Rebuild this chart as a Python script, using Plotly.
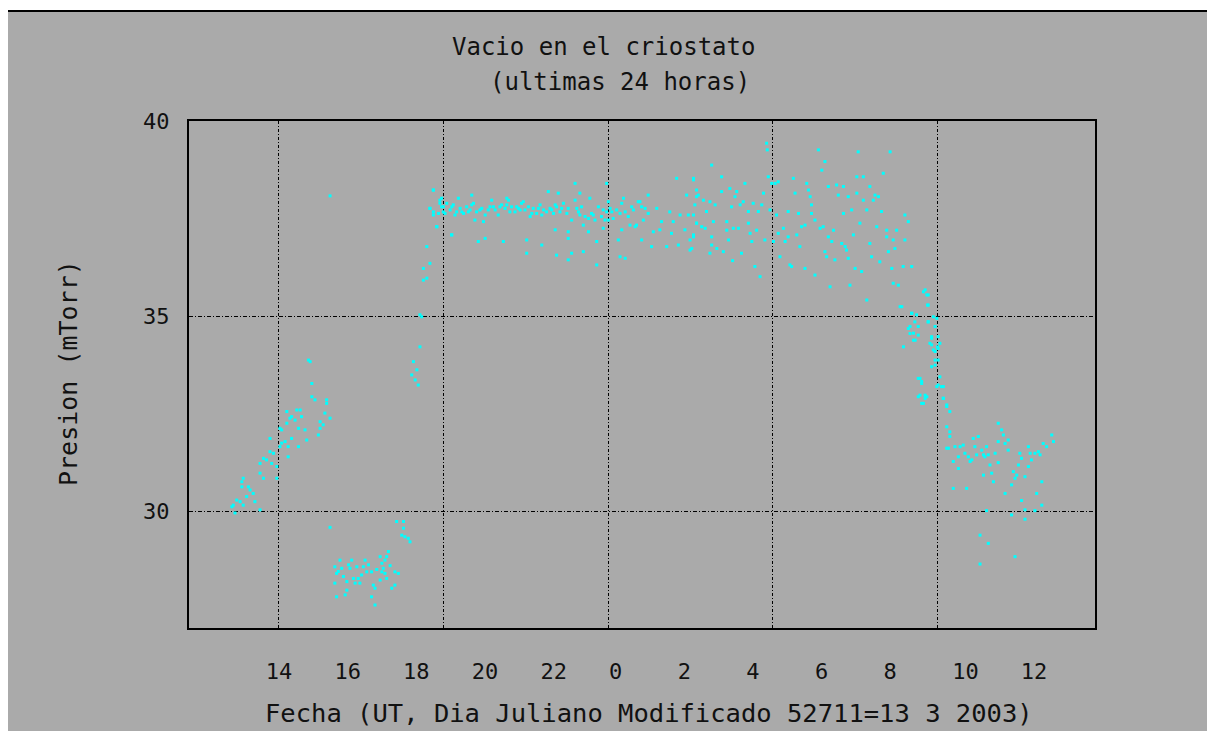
import plotly.graph_objects as go

# ---- Data: time (hours since MJD 52711.0, i.e. 13 Mar 2003 00:00 UT) and pressure (mTorr)
hours_rise = [13.08, 13.13, 13.04, 13.18, 13.28, 13.37, 13.33, 13.37, 13.33, 13.52, 13.57, 13.66, 13.47, 13.71, 13.86,
              13.86, 13.96, 13.86, 13.96, 14.05, 14.15, 14.25, 14.20, 14.35, 14.35, 14.15,
              14.44, 14.49, 14.59, 14.68, 14.68, 14.98, 14.78, 14.49, 14.44, 14.64, 14.73, 14.78, 14.64, 14.93, 15.03,
              15.07, 14.98, 15.17, 15.22, 14.88, 15.37, 15.46, 15.37, 15.27, 15.32, 15.80, 15.80, 15.75, 15.90, 15.61,
              15.70, 15.61, 15.56, 15.90]
mtorr_rise = [30.15, 29.95, 30.11, 30.28, 30.24, 30.15, 30.75, 30.84, 30.62, 30.62, 30.54, 30.45, 30.37, 30.24, 30.03,
              30.97, 30.84, 31.22, 31.35, 31.31, 31.52, 31.48, 31.22, 31.14, 30.84, 31.86,
              31.65, 31.74, 31.78, 31.65, 31.39, 31.65, 31.86, 32.08, 32.12, 32.25, 32.38, 32.42, 32.55, 32.59, 32.59,
              32.42, 32.12, 32.08, 31.82, 32.33, 32.93, 32.85, 33.27, 33.87, 33.83, 32.85, 32.76, 32.51, 32.38, 32.29,
              32.21, 32.12, 31.95, 38.08]

hours_low = [15.90, 16.19, 16.04, 16.09, 16.04, 16.09, 16.24, 16.29, 16.39, 16.39, 16.34, 16.48, 16.53, 16.58, 16.63,
             16.72, 16.77, 16.68, 16.87, 16.92, 16.97, 17.02, 17.11, 17.16, 17.21, 17.11, 17.21, 17.36, 17.41, 17.45,
             17.50, 17.55, 17.60, 17.41, 17.50, 17.36, 17.55, 17.70, 17.79, 17.79, 17.89, 17.84, 18.04, 18.04, 17.99,
             18.08, 18.18, 18.23, 16.14, 16.44, 16.82, 17.26, 17.65]
mtorr_low = [29.58, 28.74, 28.57, 28.40, 28.15, 27.80, 28.53, 28.32, 28.19, 27.97, 27.85, 28.53, 28.74, 28.27, 28.15,
             28.27, 28.15, 28.57, 28.57, 28.74, 28.44, 28.62, 28.44, 28.10, 28.02, 27.80, 27.59, 28.83, 28.66, 28.53,
             28.74, 28.83, 28.96, 28.44, 28.40, 28.23, 28.27, 28.02, 28.10, 28.44, 28.40, 29.73, 29.73, 29.56, 29.38,
             29.34, 29.30, 29.21, 28.45, 28.62, 28.36, 28.50, 28.60]

hours_jump = [18.52, 18.33, 18.28, 18.43, 18.47, 18.38, 18.52, 18.57, 18.72, 18.62, 18.81, 18.62, 18.72, 18.91, 18.81,
              18.91, 19.06, 19.10, 19.15, 19.01, 18.81, 18.91, 19.10, 19.20, 19.15, 18.91, 19.01, 19.44]
mtorr_jump = [34.21, 33.83, 33.49, 33.62, 33.23, 33.36, 35.03, 34.98, 36.78, 36.22, 36.35, 35.92, 35.97, 38.23, 37.76,
              37.67, 37.63, 37.97, 37.80, 37.29, 37.76, 37.59, 37.89, 37.67, 38.02, 38.23, 37.29, 37.08]

hours_plateau = [19.20, 19.30, 19.40, 19.49, 19.59, 19.69, 19.79, 19.88, 19.98, 20.08, 20.17, 20.32, 20.42, 20.56, 20.61,
                 20.71, 20.80, 20.90, 21.00, 21.10, 21.19, 21.29, 21.39, 21.48, 21.58, 21.73, 21.82, 21.92, 22.02, 22.12,
                 22.21, 22.31, 22.41, 22.50, 22.60, 22.70, 22.84, 22.94, 23.04, 23.14, 23.23, 23.33, 23.43, 23.52, 23.62,
                 23.72, 23.81, 23.91, 23.96, 24.06, 24.15, 24.25, 24.40, 24.50, 24.59, 24.74, 24.88, 24.98, 25.08, 25.17,
                 19.25, 19.45, 19.54, 19.74, 19.93, 20.03, 20.27, 20.51, 20.66, 20.85, 21.05, 21.14, 21.34, 21.44, 21.68,
                 21.78, 21.97, 22.07, 22.36, 22.46, 22.65, 22.80, 23.09, 23.18, 23.57, 23.86, 24.01, 24.11, 24.35, 24.69,
                 19.64, 20.03, 21.05, 21.53, 22.26, 22.55, 23.04, 23.18, 23.47, 23.96, 24.01, 24.45, 24.93, 25.17, 26.00,
                 26.49, 26.29, 26.58,
                 19.45, 20.22, 20.42, 20.12, 20.37, 20.95, 21.63, 21.63, 22.07, 22.46, 22.50, 22.84, 22.84, 22.84, 22.94,
                 23.28, 23.28, 23.43, 23.67, 23.67, 23.86, 24.30, 24.35, 24.50, 24.40, 24.64, 24.79, 24.98, 25.27, 25.32,
                 25.51, 25.71, 25.85, 26.05, 26.24, 26.39, 26.39, 26.49, 26.58, 25.56, 25.90, 26.10, 26.34, 25.42, 25.80,
                 25.03, 24.83]
mtorr_plateau = [37.80, 37.89, 37.72, 37.85, 37.67, 37.76, 37.63, 37.80, 37.72, 37.89, 37.67, 37.76, 37.59, 37.80, 37.97,
                 37.72, 37.59, 37.85, 37.76, 37.97, 37.80, 37.67, 37.76, 37.89, 37.72, 37.55, 37.76, 37.63, 37.85, 37.72,
                 37.67, 37.76, 37.63, 37.80, 37.67, 37.89, 37.76, 37.46, 37.97, 37.67, 37.80, 37.55, 37.50, 37.63, 37.46,
                 37.80, 37.55, 37.46, 37.67, 37.76, 37.50, 37.72, 37.89, 37.67, 37.55, 37.72, 37.93, 37.80, 37.76, 37.63,
                 37.63, 37.80, 37.59, 37.67, 37.67, 37.85, 37.72, 37.72, 37.80, 37.80, 37.85, 37.67, 37.80, 37.72, 37.80,
                 37.63, 37.76, 37.59, 37.72, 37.85, 37.76, 37.63, 37.76, 37.59, 37.59, 37.72, 37.46, 37.67, 37.63, 37.80,
                 38.02, 38.10, 38.02, 37.93, 38.19, 38.15, 38.40, 38.15, 38.02, 38.40, 37.93, 38.02, 37.93, 38.10, 38.53,
                 38.49, 38.10, 38.06,
                 37.08, 36.91, 36.99, 37.46, 37.42, 36.91, 36.95, 36.61, 36.82, 37.21, 36.56, 37.16, 36.99, 36.44, 36.61,
                 37.33, 36.65, 37.16, 36.91, 36.31, 37.25, 36.95, 36.52, 36.48, 37.21, 37.33, 37.29, 36.95, 36.78, 37.16,
                 37.21, 36.78, 37.12, 36.82, 37.21, 36.95, 36.69, 37.08, 37.38, 37.42, 37.42, 37.59, 37.59, 37.76, 37.67,
                 37.46, 37.33]

hours_scatter = [26.49, 26.58, 26.63, 26.53, 26.49, 26.58, 26.73, 26.83, 26.49, 26.44, 26.78, 26.87, 26.97, 27.02, 27.12,
                 27.07, 27.02, 27.02, 26.97, 27.17, 27.31, 27.31, 27.36, 27.46, 27.46, 27.51, 27.55, 27.60, 27.65, 27.63,
                 27.70, 27.75, 27.85, 27.80, 27.89, 27.99, 27.94, 28.09, 28.09, 28.14, 28.19, 28.23, 28.28, 28.33, 28.38,
                 28.43, 28.48, 28.53, 28.57, 28.62, 28.64, 28.67, 28.72, 28.77, 28.87, 28.96, 28.82, 28.91, 28.96, 29.01,
                 29.11, 29.16, 29.25, 29.25, 29.30, 29.35, 29.40, 29.45, 29.50, 29.55, 29.59, 29.64, 29.74, 29.74, 29.79,
                 29.84, 29.89, 29.93, 29.93, 30.03, 30.03, 30.13, 30.18, 30.23, 30.27, 30.32, 30.32, 30.37, 30.42, 30.42,
                 30.47, 30.52, 30.57, 30.61, 30.66, 30.71, 30.81, 30.86, 30.86, 30.91, 30.95, 31.00, 31.00, 31.05, 31.10,
                 31.15, 31.20, 31.25, 31.25, 31.29, 31.34, 31.39, 31.44, 31.44, 31.54, 31.54, 31.63, 31.63, 31.68, 31.73,
                 31.78, 31.83, 31.88, 31.92, 31.97, 32.02, 32.12, 32.12, 32.17, 32.22, 32.27, 32.31, 32.36, 32.41, 32.31,
                 32.46, 32.51, 32.60, 32.65, 32.65, 32.75, 32.85]
mtorr_scatter = [38.53, 38.23, 38.10, 37.85, 37.59, 37.38, 37.29, 37.25, 37.03, 36.73, 37.97, 37.68, 37.93, 38.87, 37.85,
                 37.42, 37.03, 36.82, 36.61, 36.73, 38.57, 38.19, 36.65, 37.42, 37.20, 36.95, 38.27, 37.80, 37.25, 36.42,
                 38.06, 38.19, 37.85, 37.25, 36.61, 38.40, 37.93, 37.68, 37.38, 37.12, 36.91, 37.89, 36.27, 37.20, 37.68,
                 36.01, 37.85, 38.15, 36.95, 39.43, 39.26, 38.57, 37.72, 38.40, 38.40, 38.44, 36.91, 37.59, 37.12, 36.52,
                 37.25, 36.91, 37.03, 37.68, 36.31, 36.27, 38.53, 38.15, 37.08, 37.63, 36.78, 37.29, 37.33, 36.22, 38.40,
                 38.23, 38.06, 37.63, 37.85, 36.05, 37.46, 39.26, 37.25, 38.74, 37.29, 38.96, 36.65, 36.52, 38.32, 37.03,
                 35.75, 36.91, 37.20, 36.44, 38.36, 38.10, 36.86, 37.63, 38.32, 36.78, 36.69, 38.06, 36.48, 35.79, 37.72,
                 37.08, 36.22, 38.57, 38.15, 39.21, 37.38, 36.14, 38.57, 37.97, 37.72, 35.41, 38.32, 36.86, 36.52, 37.97,
                 38.10, 37.29, 38.06, 36.39, 37.68, 38.66, 37.20, 37.03, 36.65, 39.21, 36.22, 36.95, 36.73, 37.20, 35.84,
                 35.79, 35.24, 36.27, 37.59, 36.95, 37.42, 36.27]

hours_drop = [32.85, 32.80, 32.90, 32.95, 32.99, 33.04, 33.19, 33.29, 33.31, 33.33, 33.38, 33.48, 33.53, 33.43, 33.48,
              33.53, 33.58, 33.62, 33.09, 33.14, 33.09, 33.19, 33.29, 33.58, 33.72, 33.77, 33.87, 33.62, 33.60,
              33.24, 33.33, 33.33, 32.56, 32.85, 32.94, 33.33, 32.75, 32.80, 32.90, 33.04, 32.61, 33.43, 33.43, 33.53,
              33.53, 33.43, 33.67, 33.62, 33.67, 33.04, 33.14, 33.62, 33.77, 33.04, 33.24, 33.24, 33.14, 33.77, 33.87,
              33.96, 33.87, 33.96, 33.96, 33.92]
mtorr_drop = [35.07, 34.73, 34.56, 34.38, 35.03, 34.73, 35.62, 35.54, 35.28, 34.85, 34.30, 34.98, 34.73, 34.47, 34.13,
              33.74, 34.94, 34.47, 33.40, 33.27, 32.97, 32.76, 32.93, 33.19, 33.19, 32.89, 32.72, 33.87, 34.21,
              35.67, 35.54, 35.28, 35.24, 35.07, 34.85, 34.85, 34.68, 34.55, 34.38, 34.51, 34.21, 34.43, 34.26, 34.09,
              33.87, 33.70, 34.30, 34.17, 33.44, 33.40, 33.32, 33.23, 33.19, 32.93, 32.97, 32.89, 32.76, 32.89, 32.68,
              32.55, 32.16, 32.03, 31.91, 31.61]

hours_tail = [34.06, 34.11, 34.21, 34.26, 34.35, 34.40, 34.50, 34.60, 34.55, 34.64, 34.69, 34.79, 34.74, 34.89, 34.94,
              35.03, 35.08, 34.98, 35.13, 35.18, 34.94, 35.28, 35.37, 35.23, 35.37, 35.47, 35.52, 35.57, 35.37, 35.66,
              35.66, 35.81, 35.91, 35.96, 35.86, 35.76, 35.57, 36.00, 36.05, 36.15, 36.25, 36.30, 36.34, 36.25, 36.44,
              36.54, 36.59, 36.64, 36.49, 36.64, 36.68, 36.78, 36.93, 36.98, 34.06, 34.45, 35.03, 35.76, 36.15, 36.15,
              36.05, 36.44, 34.84, 35.08, 35.86, 34.84, 34.21, 33.87]
mtorr_tail = [31.27, 31.65, 31.39, 31.65, 31.69, 31.48, 31.39, 31.31, 31.27, 31.86, 31.65, 31.91, 31.44, 31.56, 31.44,
              31.65, 31.44, 31.39, 31.18, 30.97, 30.92, 31.48, 31.24, 30.75, 32.25, 32.08, 31.95, 31.73, 31.78, 31.82,
              31.56, 31.01, 30.92, 31.18, 30.84, 30.67, 30.45, 31.48, 31.35, 30.88, 31.14, 31.48, 31.31, 31.65, 31.48,
              31.52, 31.44, 30.75, 30.45, 30.15, 31.73, 31.65, 31.95, 31.78, 30.58, 30.58, 30.01, 29.90, 30.03, 29.79,
              30.27, 30.01, 29.38, 29.17, 28.83, 28.64, 31.09, 31.61]

hour_ticks = [14, 16, 18, 20, 22, 24, 26, 28, 30, 32, 34, 36]
hour_labels = ["14", "16", "18", "20", "22", "0", "2", "4", "6", "8", "10", "12"]
grid_hours = [14.4, 19.2, 24.0, 28.8, 33.6]   # 0.2-day MJD steps
x_range = [11.79, 38.19]
y_range = [27, 40]

hours = hours_rise + hours_low + hours_jump + hours_plateau + hours_scatter + hours_drop + hours_tail
mtorr = mtorr_rise + mtorr_low + mtorr_jump + mtorr_plateau + mtorr_scatter + mtorr_drop + mtorr_tail

FONT = "DejaVu Sans Mono"
BG = "#aaaaaa"
TXT = "#111111"

fig = go.Figure()
fig.add_trace(go.Scatter(
    x=hours, y=mtorr, mode="markers",
    marker=dict(symbol="square", size=3, color="#00ffff", line=dict(width=0)),
    hoverinfo="x+y", showlegend=False,
))

# The page body adds an 8px margin; positions below are in figure pixels.
W, H = 1215, 731
L, R, T, B = 181, 1087, 113, 620

def px(x):
    return (x - L) / (R - L)

def py(y):
    return (B - y) / (B - T)

fig.update_layout(
    width=W, height=H,
    margin=dict(l=L, r=W - R, t=T, b=H - B, pad=0),
    paper_bgcolor=BG, plot_bgcolor=BG,
    font=dict(family=FONT, color=TXT, size=22),
    showlegend=False,
    xaxis=dict(
        range=x_range, tickmode="array", tickvals=hour_ticks, ticktext=hour_labels,
        ticks="", showgrid=False, zeroline=False,
        showline=True, mirror=True, linecolor="#000000", linewidth=2,
        ticklabelposition="outside right", ticklabelstandoff=23,
        tickfont=dict(family=FONT, size=22, color=TXT),
        minor=dict(tickmode="array", tickvals=grid_hours, showgrid=True,
                   gridcolor="#000000", gridwidth=1, griddash="3px,2px,1px,2px", ticks=""),
    ),
    yaxis=dict(
        range=y_range, tickmode="linear", tick0=0, dtick=5,
        ticks="", showgrid=True, gridcolor="#000000", gridwidth=1, griddash="4px,2px,1px,2px",
        zeroline=False, showline=True, mirror=True, linecolor="#000000", linewidth=2,
        ticklabelstandoff=13,
        tickfont=dict(family=FONT, size=22, color=TXT),
    ),
    shapes=[
        dict(type="rect", xref="paper", yref="paper", x0=px(-20), x1=px(1240), y0=py(2), y1=py(-20),
             fillcolor="#ffffff", line=dict(width=0), layer="above"),
        dict(type="rect", xref="paper", yref="paper", x0=px(0), x1=px(1240), y0=py(4), y1=py(2),
             fillcolor="#000000", line=dict(width=0), layer="above"),
    ],
    annotations=[
        dict(text="Vacio en el criostato", x=px(595), y=py(39), xref="paper", yref="paper",
             showarrow=False, xanchor="center", yanchor="middle", font=dict(family=FONT, size=24, color=TXT)),
        dict(text="(ultimas 24 horas)", x=px(612), y=py(74), xref="paper", yref="paper",
             showarrow=False, xanchor="center", yanchor="middle", font=dict(family=FONT, size=24, color=TXT)),
        dict(text="Presion (mTorr)", x=px(60), y=py(365), xref="paper", yref="paper", textangle=-90,
             showarrow=False, xanchor="center", yanchor="middle", font=dict(family=FONT, size=25, color=TXT)),
        dict(text="Fecha (UT, Dia Juliano Modificado 52711=13 3 2003)", x=px(641), y=py(705),
             xref="paper", yref="paper", showarrow=False, xanchor="center", yanchor="middle",
             font=dict(family=FONT, size=25.5, color=TXT)),
    ],
)

fig.write_html("out.html")
